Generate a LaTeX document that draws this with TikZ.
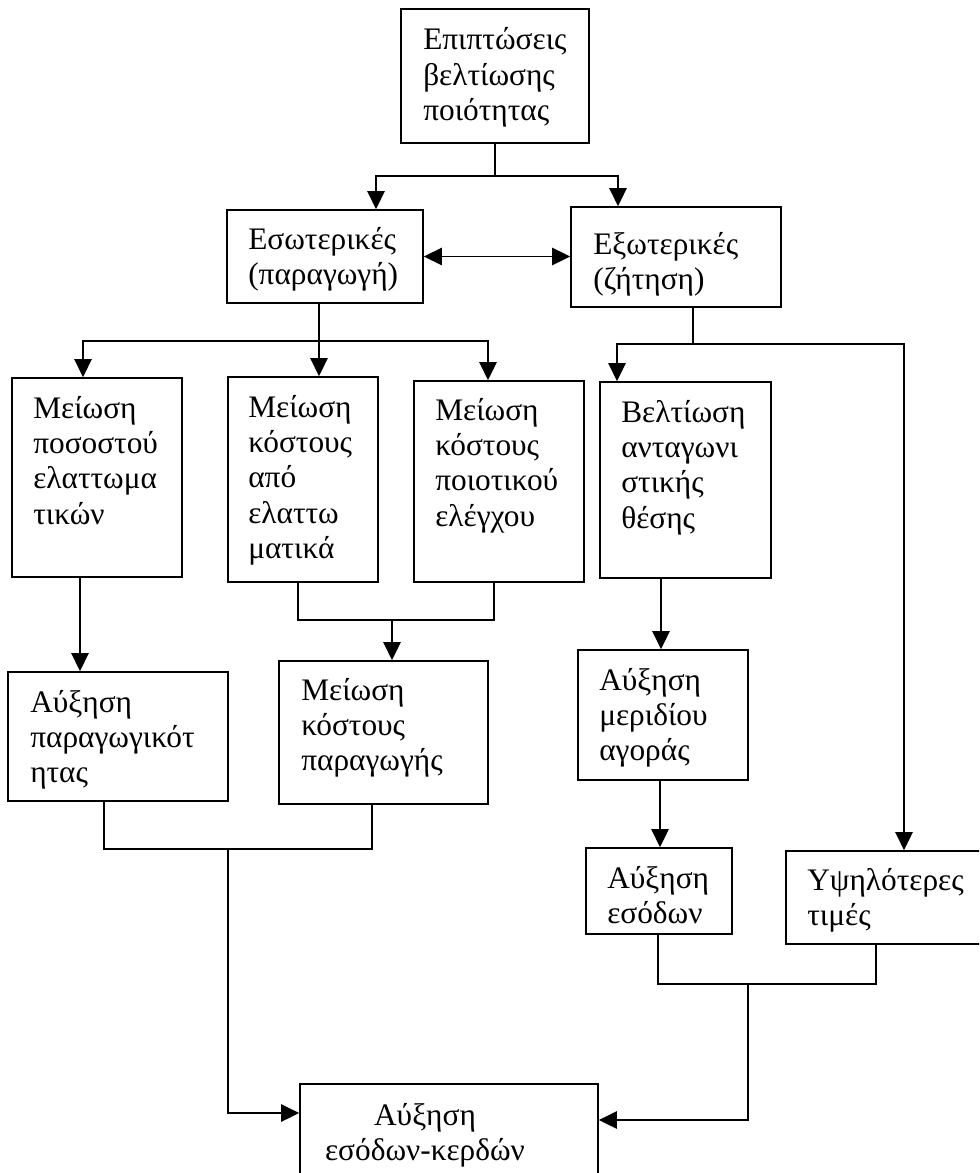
\documentclass[tikz,border=0pt]{standalone}
\usepackage{fontspec}
\setmainfont{Liberation Serif}
\usetikzlibrary{arrows.meta,fit}

% multi-line labels whose reference point is the first baseline
\newcommand\mlines[1]{\begin{tabular}[t]{@{}l@{}}#1\end{tabular}}
\newcommand\clines[1]{\begin{tabular}[t]{@{}c@{}}#1\end{tabular}}

\begin{document}
\begin{tikzpicture}[
  x=0.75pt, y=-0.75pt,
  box/.style={draw, line width=1.3pt, inner sep=0pt, fit={#1}},
  txt/.style={inner sep=0pt, anchor=base west, font=\fontsize{23.5}{26.6}\selectfont},
  ctxt/.style={inner sep=0pt, anchor=base, font=\fontsize{23.5}{26.6}\selectfont},
  ln/.style={line width=1.3pt},
  arr/.style={line width=1.3pt, -{Triangle[length=13.5pt,width=13pt]}},
  arrtwo/.style={line width=1.3pt, {Triangle[length=13.5pt,width=13pt]}-{Triangle[length=13.5pt,width=13pt]}}
]
\useasboundingbox (0,0) rectangle (979,1173);
\clip (0,0) rectangle (979,1173);

% boxes
\node[box={(401,9) (589,143)}]    (top) {};
\node[box={(227,210) (423,303)}]  (esw) {};
\node[box={(571,207) (781,307)}]  (exw) {};
\node[box={(12,378) (182,577)}]   (b1) {};
\node[box={(228,377) (378,582)}]  (b2) {};
\node[box={(414,381) (584,582)}]  (b3) {};
\node[box={(600,382) (771,578)}]  (b4) {};
\node[box={(8,672) (228,801)}]    (c1) {};
\node[box={(279,661) (488,804)}]  (c2) {};
\node[box={(578,650) (748,780)}]  (c3) {};
\node[box={(586,848) (732,934)}]  (d1) {};
\node[box={(786,851) (1000,944)}] (d2) {};
\node[box={(300,1084) (598,1200)}] (fin) {};

% labels
\node[txt] (topt) at (423,50)  {\mlines{Επιπτώσεις\\βελτίωσης\\ποιότητας}};
\node[txt] (eswt) at (248,249) {\mlines{Εσωτερικές\\(παραγωγή)}};
\node[txt] (exwt) at (593,254) {\mlines{Εξωτερικές\\(ζήτηση)}};
\node[txt] (b1t)  at (33,418)  {\mlines{Μείωση\\ποσοστού\\ελαττωμα\\τικών}};
\node[txt] (b2t)  at (248,417) {\mlines{Μείωση\\κόστους\\από\\ελαττω\\ματικά}};
\node[txt] (b3t)  at (435,420) {\mlines{Μείωση\\κόστους\\ποιοτικού\\ελέγχου}};
\node[txt] (b4t)  at (621,422) {\mlines{Βελτίωση\\ανταγωνι\\στικής\\θέσης}};
\node[txt] (c1t)  at (30,712)  {\mlines{Αύξηση\\παραγωγικότ\\ητας}};
\node[txt] (c2t)  at (301,700) {\mlines{Μείωση\\κόστους\\παραγωγής}};
\node[txt] (c3t)  at (599,690) {\mlines{Αύξηση\\μεριδίου\\αγοράς}};
\node[txt] (d1t)  at (607,888) {\mlines{Αύξηση\\εσόδων}};
\node[txt] (d2t)  at (807,890) {\mlines{Υψηλότερες\\τιμές}};
\node[ctxt] (fint) at (425,1125) {\clines{Αύξηση\\εσόδων-κερδών}};

% junctions of the connector buses
\coordinate (jA) at (495,176);
\coordinate (jB) at (319,341);
\coordinate (jC) at (693,344);
\coordinate (jD) at (392,620);
\coordinate (jE) at (228,849);
\coordinate (jF) at (748,984);

% connectors
\draw[ln]  (top.south) -- (jA);
\draw[arr] (jA) -| (esw.north -| 376,0);
\draw[arr] (jA) -| (exw.north -| 618,0);
\draw[arrtwo] (esw.east) -- (exw.west |- esw.east);

\draw[ln]  (esw.south -| jB) -- (jB);
\draw[arr] (jB) -| (b1.north -| 83,0);
\draw[arr] (jB) -- (b2.north -| jB);
\draw[arr] (jB) -| (b3.north -| 488,0);

\draw[ln]  (exw.south -| jC) -- (jC);
\draw[arr] (jC) -| (b4.north -| 617,0);
\draw[arr] (jC) -| (d2.north -| 904,0);

\draw[arr] (b1.south -| 80,0) -- (c1.north -| 80,0);
\draw[ln]  (b2.south -| 298,0) |- (jD);
\draw[ln]  (b3.south -| 494,0) |- (jD);
\draw[arr] (jD) -- (c2.north -| jD);

\draw[arr] (b4.south -| 661,0) -- (c3.north -| 661,0);
\draw[arr] (c3.south -| 660,0) -- (d1.north -| 660,0);

\draw[ln]  (c1.south -| 104,0) |- (jE);
\draw[ln]  (c2.south -| 372,0) |- (jE);
\draw[arr] (jE) |- (fin.west |- 0,1113);

\draw[ln]  (d1.south -| 658,0) |- (jF);
\draw[ln]  (d2.south -| 876,0) |- (jF);
\draw[arr] (jF) |- (fin.east |- 0,1120);
\end{tikzpicture}
\end{document}
